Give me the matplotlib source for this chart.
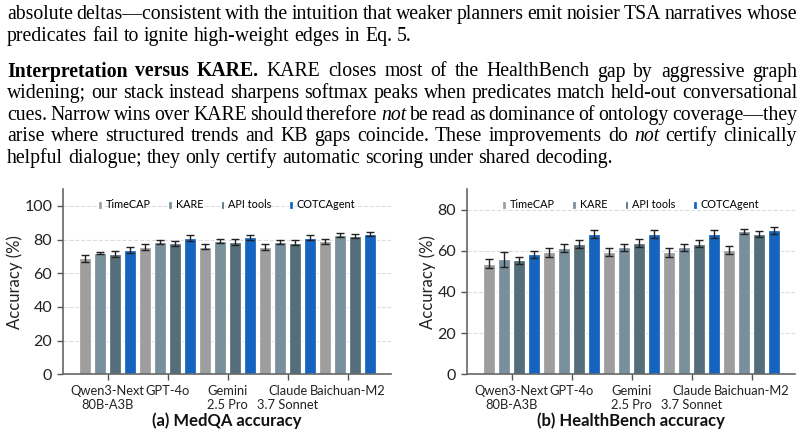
import matplotlib
matplotlib.use("Agg")
import matplotlib.pyplot as plt
import numpy as np

# ---- data ----
models = ["Qwen3-Next\n80B-A3B", "GPT-4o", "Gemini\n2.5 Pro", "Claude\n3.7 Sonnet", "Baichuan-M2"]
methods = ["TimeCAP", "KARE", "API tools", "COTCAgent"]
colors = ["#9e9e9e", "#78909c", "#546e7a", "#1565c0"]

medqa_timecap = [68.9, 75.4, 75.8, 75.5, 79.0]
medqa_kare = [71.9, 78.4, 79.0, 78.6, 82.7]
medqa_api = [71.3, 77.8, 78.6, 78.2, 82.0]
medqa_cotca = [73.6, 80.7, 81.4, 81.1, 83.4]
medqa_timecap_err = [2.0, 1.8, 1.7, 1.7, 1.4]
medqa_kare_err = [0.5, 1.3, 1.3, 1.4, 1.2]
medqa_api_err = [1.7, 1.6, 1.6, 1.5, 1.2]
medqa_cotca_err = [1.8, 1.7, 1.4, 1.4, 1.2]

hb_timecap = [53.8, 59.2, 59.5, 59.2, 60.2]
hb_kare = [55.8, 61.5, 61.8, 61.6, 69.4]
hb_api = [55.3, 63.2, 63.6, 63.5, 68.1]
hb_cotca = [58.2, 68.0, 68.3, 68.1, 69.9]
hb_timecap_err = [2.2, 2.0, 1.9, 2.0, 1.9]
hb_kare_err = [3.8, 1.9, 1.7, 1.9, 1.3]
hb_api_err = [1.9, 1.9, 1.9, 1.9, 1.3]
hb_cotca_err = [1.9, 1.9, 1.9, 1.9, 1.8]

# paragraph text above the figure (** bold **, _italic_)
para_lines = [
    "absolute deltas\u2014consistent with the intuition that weaker planners emit noisier TSA narratives whose",
    "predicates fail to ignite high-weight edges in Eq. 5.",
    "**Interpretation** **versus** **KARE.** KARE closes most of the HealthBench gap by aggressive graph",
    "widening; our stack instead sharpens softmax peaks when predicates match held-out conversational",
    "cues. Narrow wins over KARE should therefore _not_ be read as dominance of ontology coverage\u2014they",
    "arise where structured trends and KB gaps coincide. These improvements do _not_ certify clinically",
    "helpful dialogue; they only certify automatic scoring under shared decoding.",
]
para_last = [False, True, False, False, False, False, True]
para_baselines = [19.3, 40.7, 76.5, 98.1, 119.8, 141.4, 163.0]

W, H = 806, 436
fig = plt.figure(figsize=(W / 100, H / 100), dpi=100)
r = fig.canvas.get_renderer()

SERIF = "Liberation Serif"
TSIZE = 14.2


def tokens(line):
    out = []
    for w in line.split(" "):
        if w.startswith("**") and w.endswith("**"):
            out.append((w[2:-2], "bold", "normal"))
        elif w.startswith("_") and w.endswith("_"):
            out.append((w[1:-1], "normal", "italic"))
        else:
            out.append((w, "normal", "normal"))
    return out


def width_of(t):
    return t.get_window_extent(renderer=r).width


probe1 = fig.text(0, 0, "a a", fontsize=TSIZE, family=SERIF)
probe2 = fig.text(0, 0, "aa", fontsize=TSIZE, family=SERIF)
space_w = width_of(probe1) - width_of(probe2)
probe1.remove()
probe2.remove()

x0, x1 = 7, 797
for line, last, yb in zip(para_lines, para_last, para_baselines):
    toks = tokens(line)
    arts = [fig.text(0, 1 - yb / H, w, fontsize=TSIZE, family=SERIF, weight=wt,
                     style=st, va="baseline", ha="left", color="black")
            for w, wt, st in toks]
    widths = [width_of(a) for a in arts]
    if last or len(arts) < 2:
        gap = space_w
    else:
        gap = (x1 - x0 - sum(widths)) / (len(arts) - 1)
    x = x0
    for a, w in zip(arts, widths):
        a.set_x(x / W)
        x += w + gap

# ---- charts ----
plt.rcParams['font.family'] = ['Lato', 'DejaVu Sans']

panels = [
    ([medqa_timecap, medqa_kare, medqa_api, medqa_cotca],
     [medqa_timecap_err, medqa_kare_err, medqa_api_err, medqa_cotca_err],
     110, "(a) MedQA accuracy", 62.7),
    ([hb_timecap, hb_kare, hb_api, hb_cotca],
     [hb_timecap_err, hb_kare_err, hb_api_err, hb_cotca_err],
     90, "(b) HealthBench accuracy", 466.7),
]

x = np.arange(len(models))
ax_w = 328
ax_top, ax_bot = 189, 374.3
for vals, errs, ytop, title, left in panels:
    ax = fig.add_axes([left / W, 1 - ax_bot / H, ax_w / W, (ax_bot - ax_top) / H])
    for j, (v, e, c, m) in enumerate(zip(vals, errs, colors, methods)):
        ax.bar(x + (j - 1.5) * 0.25, v, width=0.2, color=c, edgecolor="white",
               linewidth=0.9, label=m, zorder=2,
               yerr=e, capsize=2.6, error_kw=dict(ecolor="#222222", elinewidth=1.0,
                                                 capthick=1.0, zorder=3))
    ax.set_xlim(-0.75, 4.72)
    ax.set_ylim(0, ytop)
    ax.set_yticks(np.arange(0, ytop, 20))
    ax.set_xticks(x)
    ax.set_xticklabels(models, fontsize=9.3)
    ax.tick_params(axis="y", labelsize=11.5)
    ax.tick_params(colors="#555555", labelcolor="#222222", length=4, width=1)
    ax.set_ylabel("Accuracy (%)", fontsize=12, color="#222222", labelpad=1)
    ax.yaxis.grid(True, linestyle="--", color="#dddddd", linewidth=0.8, zorder=0)
    ax.set_axisbelow(True)
    for s in ["top", "right"]:
        ax.spines[s].set_visible(False)
    for s in ["left", "bottom"]:
        ax.spines[s].set_color("#666666")
        ax.spines[s].set_linewidth(1.2)
    ax.legend(loc="center", bbox_to_anchor=(0.5, 0.914), ncol=4, frameon=False,
              fontsize=7.8, handlelength=0.35, handleheight=0.8, handletextpad=0.35,
              columnspacing=1.6, borderaxespad=0)
    fig.text((left + ax_w / 2) / W, 1 - 421 / H, title, ha="center",
             va="center", fontsize=12, fontweight="bold", color="#111111")

fig.savefig("out.png", dpi=100)
